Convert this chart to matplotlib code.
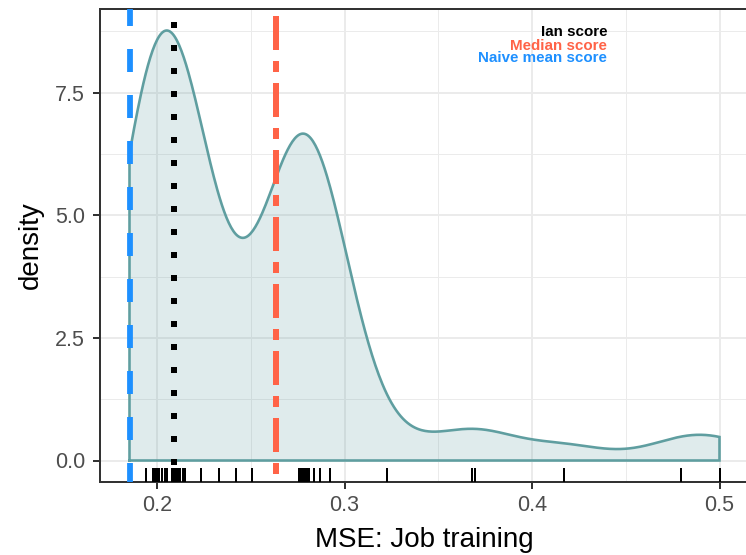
import numpy as np
import matplotlib.pyplot as plt

plt.rcParams['font.family'] = ['Liberation Sans', 'DejaVu Sans']
plt.rcParams['lines.scale_dashes'] = False

# MSE scores behind the density (rug positions, repeated values in the clusters)
mse_scores = [0.1853, 0.1853,
              0.1939, 0.1939, 0.1978, 0.1978, 0.1988, 0.1988, 0.1998, 0.1998,
              0.2008, 0.2008, 0.2008, 0.2024, 0.2024, 0.2041, 0.2041, 0.2055,
              0.2055, 0.2079, 0.2079, 0.2090, 0.2090, 0.2100, 0.2100, 0.2110,
              0.2110, 0.2122, 0.2137, 0.2147,
              0.2232, 0.2328, 0.2422, 0.2507,
              0.2758, 0.2758, 0.2758, 0.2768, 0.2768, 0.2768, 0.2778, 0.2778,
              0.2778, 0.2778, 0.2789, 0.2789, 0.2789, 0.2799, 0.2799, 0.2799,
              0.2809, 0.2809, 0.2809, 0.2836, 0.2868, 0.2925,
              0.3229, 0.3681, 0.3696, 0.4172, 0.4792, 0.5000]

ian_score = 0.2089
median_score = 0.2634
naive_score = 0.1853

legend_labels = ["Ian score", "Median score", "Naive mean score"]
legend_colors = ["black", "tomato", "dodgerblue"]
legend_x = 0.44
legend_y = [8.65, 8.38, 8.12]

x_ticks = [0.2, 0.3, 0.4, 0.5]
y_ticks = [0.0, 2.5, 5.0, 7.5]


def bw_nrd0(x):
    """Silverman's rule of thumb, as R's bw.nrd0"""
    x = np.asarray(x)
    sd = np.std(x, ddof=1)
    iqr = np.subtract(*np.percentile(x, [75, 25]))
    lo = min(sd, iqr / 1.34)
    return 0.9 * lo * len(x) ** -0.2


def gaussian_density(x, grid):
    x = np.asarray(x)
    bw = bw_nrd0(x)
    z = (grid[:, None] - x[None, :]) / bw
    return np.exp(-0.5 * z ** 2).sum(axis=1) / (len(x) * bw * np.sqrt(2 * np.pi))


def px(p):
    # pixels -> points at dpi 100
    return p * 0.72


def main():

    fig = plt.figure(figsize=(7.46, 5.55), dpi=100)
    ax = fig.add_axes([100 / 746, 73 / 555, 649 / 746, 473 / 555])

    grid = np.linspace(min(mse_scores), max(mse_scores), 512)
    dens = gaussian_density(mse_scores, grid)

    poly_x = np.concatenate([[grid[0]], grid, [grid[-1], grid[0]]])
    poly_y = np.concatenate([[0], dens, [0, 0]])
    ax.fill(poly_x, poly_y, color='cadetblue', alpha=0.2, lw=0, zorder=2)
    ax.plot(poly_x, poly_y, color='cadetblue', lw=px(2.6), zorder=3,
            solid_joinstyle='miter')

    # rug
    trans = ax.get_xaxis_transform()
    for s in sorted(set(mse_scores)):
        ax.plot([s, s], [0, 0.03], color='black', lw=px(2.0), transform=trans,
                solid_capstyle='butt', zorder=4)

    # reference lines, drawn from the top down
    ax.plot([naive_score, naive_score], [1, 0], transform=trans,
            color='dodgerblue', lw=px(5.8), zorder=5,
            linestyle=(px(6), (px(23), px(23))), dash_capstyle='butt')
    ax.plot([ian_score, ian_score], [1, 0], transform=trans,
            color='black', lw=px(6), zorder=5,
            linestyle=(px(10), (px(6), px(17))), dash_capstyle='butt')
    ax.plot([median_score, median_score], [1, 0], transform=trans,
            color='tomato', lw=px(6), zorder=5,
            linestyle=(px(60), (px(34), px(11), px(11), px(11))),
            dash_capstyle='butt')

    for label, color, y in zip(legend_labels, legend_colors, legend_y):
        ax.text(legend_x, y, label, color=color, ha='right', va='baseline',
                fontsize=10.9, fontweight='bold', zorder=6)

    # ticks and grid
    ax.set_xticks(x_ticks)
    ax.set_yticks(y_ticks)
    ax.set_xticklabels([f"{t:g}" for t in x_ticks])
    ax.set_yticklabels([f"{t:.1f}" for t in y_ticks])
    ax.set_xticks([0.25, 0.35, 0.45], minor=True)
    ax.set_yticks([1.25, 3.75, 6.25, 8.75], minor=True)
    ax.grid(True, which='major', color='#EBEBEB', lw=px(2), zorder=0)
    ax.grid(True, which='minor', color='#EBEBEB', lw=px(1), zorder=0)
    ax.set_axisbelow(True)
    ax.tick_params(which='minor', length=0)
    ax.tick_params(which='major', length=px(7), width=px(2), color='#333333',
                   labelsize=15.5, labelcolor='#4D4D4D')
    ax.tick_params(axis='x', pad=4.5)
    ax.tick_params(axis='y', pad=5.8)

    # limits as ggplot: 5% expansion of the data ranges
    x_range = max(mse_scores) - min(mse_scores)
    ax.set_xlim(min(mse_scores) - 0.05 * x_range, max(mse_scores) + 0.05 * x_range)
    ax.set_ylim(-0.05 * dens.max(), 1.05 * dens.max())

    for spine in ax.spines.values():
        spine.set_color('#333333')
        spine.set_linewidth(px(2))

    ax.set_xlabel("MSE: Job training", fontsize=20, labelpad=8)
    ax.set_ylabel("density", fontsize=20, labelpad=8)

    fig.savefig('out.png', dpi=100)


if __name__ == '__main__':
    main()
